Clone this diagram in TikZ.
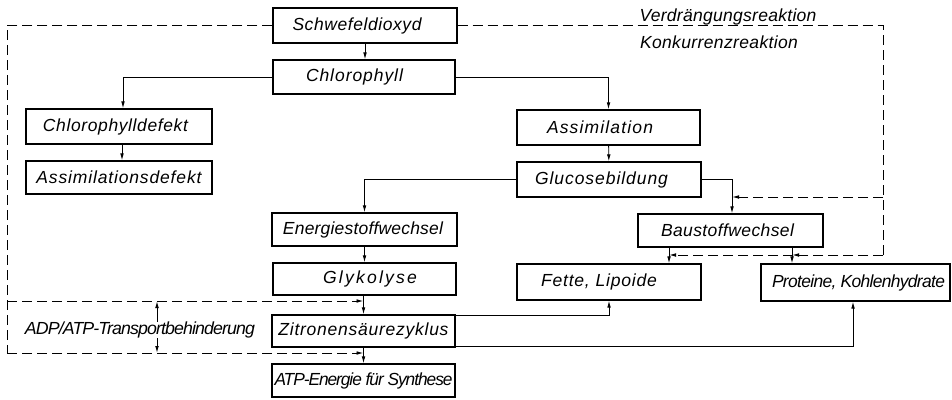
\documentclass[tikz,border=0pt]{standalone}
\usepackage{fontspec}
\setmainfont{Liberation Sans}
\usepackage{graphicx}
\usetikzlibrary{arrows.meta}
% track a label, then squeeze it to a given width, keeping its height
\newcommand{\fitlbl}[3][0]{\resizebox{#2pt}{\height}{\addfontfeature{LetterSpace=#1}#3}}
% pad one side of a label so that it sits off-centre in its box
\newcommand{\pad}[1]{\hspace*{#1pt}}
\begin{document}
\begin{tikzpicture}[x=1pt,y=-1pt,
  every node/.style={font=\fontsize{17.5}{20}\selectfont\itshape, inner sep=0pt},
  stepbox/.style={draw, line width=1.1pt},
  flow/.style={line width=0.9pt, -{Latex[length=7pt,width=3.6pt]}},
  dashline/.style={line width=0.9pt, dash pattern=on 10pt off 5pt},
  dashflow/.style={dashline, -{Latex[length=7pt,width=3.6pt]}}]
\useasboundingbox (0,0) rectangle (952,399);

% boxes
\node[stepbox, minimum width=184pt, minimum height=35pt] (sch) at (365,25.5) {\fitlbl[3.3]{129}{Schwefeldioxyd}\pad{16}};
\node[stepbox, minimum width=182pt, minimum height=34pt] (chl) at (364,77) {\fitlbl[5.4]{97}{Chlorophyll}\pad{19}};
\node[stepbox, minimum width=186pt, minimum height=35pt] (cdef) at (119,126.5) {\fitlbl[3.6]{145}{Chlorophylldefekt}\pad{7}};
\node[stepbox, minimum width=186pt, minimum height=33pt] (adef) at (119,177.5) {\fitlbl[4.8]{165}{Assimilationsdefekt}};
\node[stepbox, minimum width=183pt, minimum height=35pt] (asm) at (608.5,127.5) {\fitlbl[6.6]{106}{Assimilation}\pad{17}};
\node[stepbox, minimum width=184pt, minimum height=35pt] (glu) at (609,179.5) {\fitlbl[5.4]{133}{Glucosebildung}\pad{15}};
\node[stepbox, minimum width=185pt, minimum height=33pt] (ene) at (364.5,229.5) {\fitlbl[1.1]{160}{Energiestoffwechsel}\pad{3}};
\node[stepbox, minimum width=185pt, minimum height=33pt] (bau) at (730.5,230.5) {\fitlbl[2.3]{133}{Baustoffwechsel}\pad{6}};
\node[stepbox, minimum width=183pt, minimum height=32pt] (gly) at (364.5,279) {\pad{11}\fitlbl[12.6]{94}{Glykolyse}};
\node[stepbox, minimum width=184pt, minimum height=36pt] (fet) at (609,282) {\fitlbl[4.4]{116}{Fette, Lipoide}\pad{20}};
\node[stepbox, minimum width=189pt, minimum height=37pt] (pro) at (855.5,282.5) {\pad{6}\fitlbl[-3.8]{173}{Proteine, Kohlenhydrate}};
\node[stepbox, minimum width=183pt, minimum height=32pt] (zit) at (363.5,331) {\fitlbl[4.3]{170}{Zitronensäurezyklus}};
\node[stepbox, minimum width=183pt, minimum height=33pt] (atp) at (363.5,380.5) {\fitlbl[-6]{178}{ATP-Energie für Synthese}};

% free labels
\node (vr) at (728,17) {\fitlbl[1.5]{177}{Verdrängungsreaktion}};
\node (kr) at (719,42) {\fitlbl[2.1]{158}{Konkurrenzreaktion}};
\node (adp) at (140,330) {\fitlbl[-5]{230}{ADP/ATP-Transportbehinderung}};

% solid flow
\draw[flow] (sch.south) -- (sch.south |- chl.north);
\draw[flow] (chl.west) -| ([xshift=4pt]cdef.north);
\draw[flow] (chl.east) -| (asm.north);
\draw[flow] ([xshift=3pt]cdef.south) -- ([xshift=3pt]adef.north);
\draw[flow] (asm) -- (glu);
\draw[flow] (glu.west) -| (ene.north);
\draw[flow] (glu.east) -| ([xshift=1.5pt]bau.north);
\draw[flow] (ene) -- (gly);
\draw[flow] ([xshift=-1pt]gly.south) -- ([xshift=-1pt]gly.south |- zit.north);
\draw[flow] (zit) -- (atp);
\draw[flow] ([xshift=-61.5pt]bau.south) -- ([xshift=-61.5pt]bau.south |- fet.north);
\draw[flow] ([xshift=61.5pt]bau.south) -- ([xshift=61.5pt]bau.south |- pro.north);
\draw[flow] ([yshift=-1pt]zit.north east) -| (fet.south);
\draw[flow] ([yshift=1pt]zit.south east) -| ([xshift=-2.5pt]pro.south);

% dashed inhibition paths, right side
\coordinate (rtop) at (883,25.5);
\coordinate (rmid) at (883,197);
\coordinate (rbot) at (883,255);
\coordinate (bx) at ([xshift=1.5pt]bau.north);
\coordinate (fx) at ([xshift=-61.5pt]bau.south);
\coordinate (px) at ([xshift=61.5pt]bau.south);
\draw[dashline] (sch.east) -- (rtop) -- (rbot);
\draw[dashflow] (rmid) -- (rmid -| bx);
\draw[dashflow] (rbot) -- (rbot -| fx);
\draw[dashflow] (rbot) -- (rbot -| px);

% dashed inhibition paths, left side
\coordinate (ltop) at (7,25.5);
\coordinate (lmid) at (7,301);
\coordinate (lbot) at (7,353);
\draw[dashline] (sch.west) -- (ltop) -- (lbot);
\draw[dashflow] (lmid) -- (lmid -| zit.north);
\draw[dashflow] (lbot) -- (lbot -| zit.south);
\draw[flow] ([xshift=17pt]adp.north) -- ([xshift=17pt]adp.north |- lmid);
\draw[flow] ([xshift=17pt]adp.south) -- ([xshift=17pt]adp.south |- lbot);
\end{tikzpicture}
\end{document}
